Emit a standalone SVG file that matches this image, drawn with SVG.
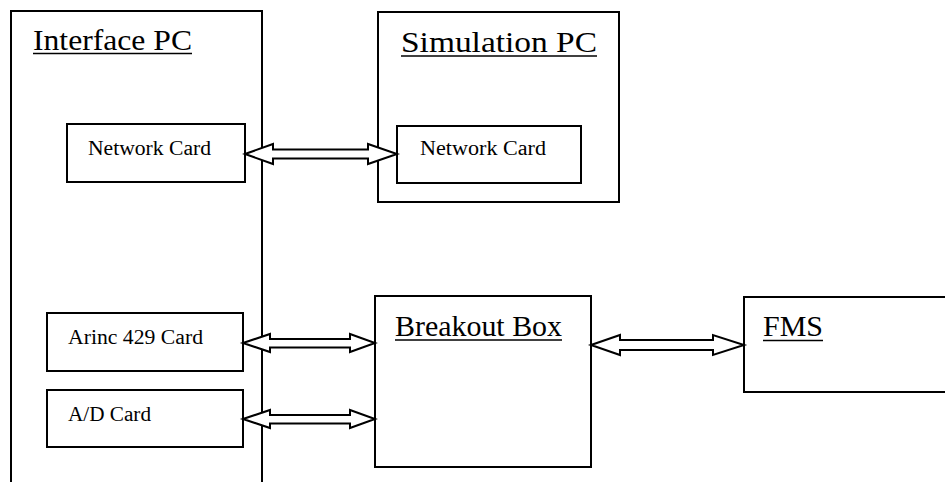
<svg xmlns="http://www.w3.org/2000/svg" width="945" height="482" viewBox="0 0 945 482">
<style>
.box{fill:none;stroke:#000;stroke-width:2}
.card{fill:#fff;stroke:#000;stroke-width:2}
.arrow{fill:#fff;stroke:#000;stroke-width:2;stroke-linejoin:miter}
.title{font-family:"Liberation Serif","Times New Roman",serif;font-size:30px;fill:#000}
.label{font-family:"Liberation Serif","Times New Roman",serif;font-size:20px;fill:#000}
.ul{stroke:#000;stroke-width:1.6}
</style>
<rect width="945" height="482" fill="#fff"/>
<g id="interface-pc">
<path class="box" d="M11,482 V11 H262 V482"/>
<text class="title" x="33" y="50" textLength="159" lengthAdjust="spacingAndGlyphs">Interface PC</text>
<line class="ul" x1="33" y1="53.5" x2="192" y2="53.5"/>
</g>
<g id="simulation-pc">
<rect class="box" x="378" y="12" width="241" height="190"/>
<text class="title" x="401" y="52" textLength="196" lengthAdjust="spacingAndGlyphs">Simulation PC</text>
<line class="ul" x1="401" y1="56" x2="597" y2="56"/>
</g>
<g id="network-card-left">
<rect class="card" x="67" y="124" width="178" height="58"/>
<text class="label" x="88" y="155" textLength="123" lengthAdjust="spacingAndGlyphs">Network Card</text>
</g>
<g id="network-card-right">
<rect class="card" x="397" y="126" width="184" height="57"/>
<text class="label" x="420" y="155" textLength="126" lengthAdjust="spacingAndGlyphs">Network Card</text>
</g>
<g id="arinc-card">
<rect class="card" x="47" y="313" width="196" height="58"/>
<text class="label" x="68" y="344" textLength="135" lengthAdjust="spacingAndGlyphs">Arinc 429 Card</text>
</g>
<g id="ad-card">
<rect class="card" x="47" y="390" width="196" height="57"/>
<text class="label" x="68" y="421" textLength="83" lengthAdjust="spacingAndGlyphs">A/D Card</text>
</g>
<g id="breakout-box">
<rect class="box" x="375" y="296" width="216" height="171"/>
<text class="title" x="395" y="336" textLength="167" lengthAdjust="spacingAndGlyphs">Breakout Box</text>
<line class="ul" x1="395" y1="340" x2="562" y2="340"/>
</g>
<g id="fms">
<path class="box" d="M946,297 H744 V392 H946"/>
<text class="title" x="763" y="336" textLength="60" lengthAdjust="spacingAndGlyphs">FMS</text>
<line class="ul" x1="763" y1="340.5" x2="823" y2="340.5"/>
</g>
<g id="connectors">
<polygon class="arrow" points="245,154 273,144 273,149.5 368,149.5 368,144 397,154 368,164 368,158.5 273,158.5 273,164"/>
<polygon class="arrow" points="243,343 270,334 270,339 350,339 350,334 375,343 350,352 350,347.5 270,347.5 270,352"/>
<polygon class="arrow" points="243,419 270,410 270,415 350,415 350,410 375,419 350,428 350,423.5 270,423.5 270,428"/>
<polygon class="arrow" points="591,345 620,335 620,340 713,340 713,335 744,345 713,355 713,350 620,350 620,355"/>
</g>
</svg>
